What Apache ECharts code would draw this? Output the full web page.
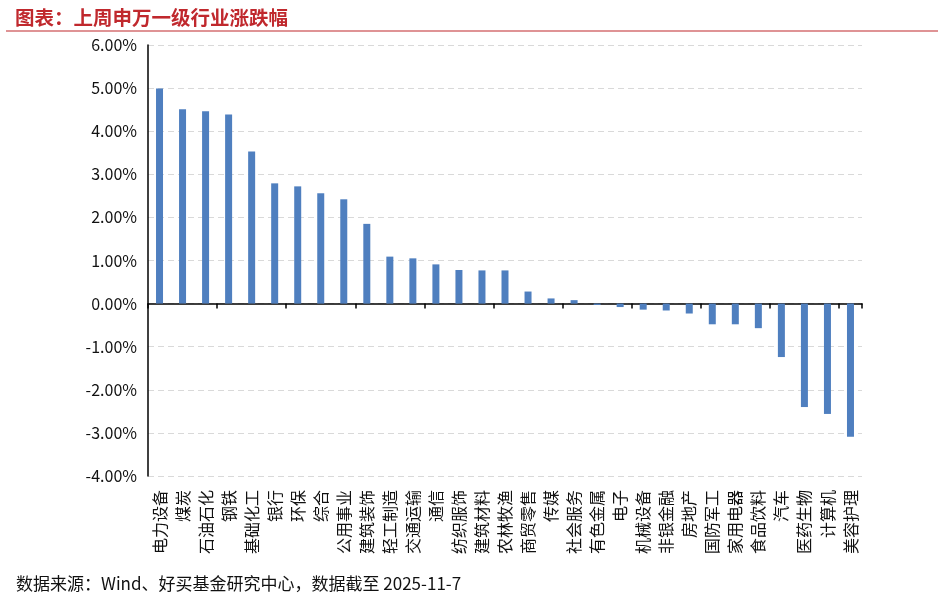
<!DOCTYPE html>
<html><head><meta charset="utf-8">
<script src="https://cdn.jsdelivr.net/npm/echarts@6/dist/echarts.min.js"></script>
<style>html,body{margin:0;padding:0;background:#fff}#c{width:949px;height:606px}</style>
</head><body><div id="c"></div>
<script>
const categories = ['电力设备','煤炭','石油石化','钢铁','基础化工','银行','环保','综合','公用事业','建筑装饰','轻工制造','交通运输','通信','纺织服饰','建筑材料','农林牧渔','商贸零售','传媒','社会服务','有色金属','电子','机械设备','非银金融','房地产','国防军工','家用电器','食品饮料','汽车','医药生物','计算机','美容护理'];
const changes = [4.99,4.51,4.46,4.39,3.53,2.79,2.72,2.56,2.42,1.85,1.09,1.05,0.91,0.78,0.77,0.77,0.28,0.12,0.08,-0.03,-0.08,-0.14,-0.16,-0.23,-0.48,-0.48,-0.57,-1.24,-2.40,-2.56,-3.09];
const titleText = '图表：上周申万一级行业涨跌幅';
const sourceText = '数据来源：Wind、好买基金研究中心，数据截至 2025-11-7';
const FONT = '"Microsoft YaHei","Noto Sans CJK SC",sans-serif';

const chart = echarts.init(document.getElementById('c'));
chart.setOption({
  animation: false,
  backgroundColor: '#fff',
  textStyle: {fontFamily: FONT},
  grid: {left: 148, right: 87, top: 45, bottom: 130, containLabel: false},
  xAxis: [
    {type: 'category', data: categories, position: 'bottom',
     axisLine: {onZero: true, lineStyle: {color: '#000', width: 1.5}},
     axisTick: {show: true, length: 5, lineStyle: {color: '#000', width: 1.5}},
     axisLabel: {show: false}},
    {type: 'category', data: categories, position: 'bottom',
     axisLine: {show: false}, axisTick: {show: false},
     axisLabel: {show: true, rotate: 90, interval: 0, margin: 14, fontSize: 16, color: '#111', fontFamily: FONT}}
  ],
  yAxis: {type: 'value', min: -4, max: 6, interval: 1,
    axisLine: {show: true, lineStyle: {color: '#000', width: 1.5}},
    axisTick: {show: false},
    axisLabel: {fontSize: 16, color: '#111', margin: 11, fontFamily: FONT,
      formatter: v => v.toFixed(2) + '%'},
    splitLine: {show: true, lineStyle: {color: '#d9d9d9', type: [6, 4], width: 1}}
  },
  series: [{type: 'bar', xAxisIndex: 0, data: changes, barWidth: 7,
    itemStyle: {color: '#4f7fbf'}}],
  graphic: [
    {type: 'text', left: 15, top: 8, style: {text: titleText, fill: '#c0282d', font: 'bold 19.5px ' + FONT}},
    {type: 'line', shape: {x1: 6, y1: 31, x2: 938, y2: 31}, style: {stroke: '#c0282d', lineWidth: 1.2}},
    {type: 'text', left: 16, top: 575, style: {text: sourceText, fill: '#111', font: '17px ' + FONT}}
  ]
});
</script></body></html>
